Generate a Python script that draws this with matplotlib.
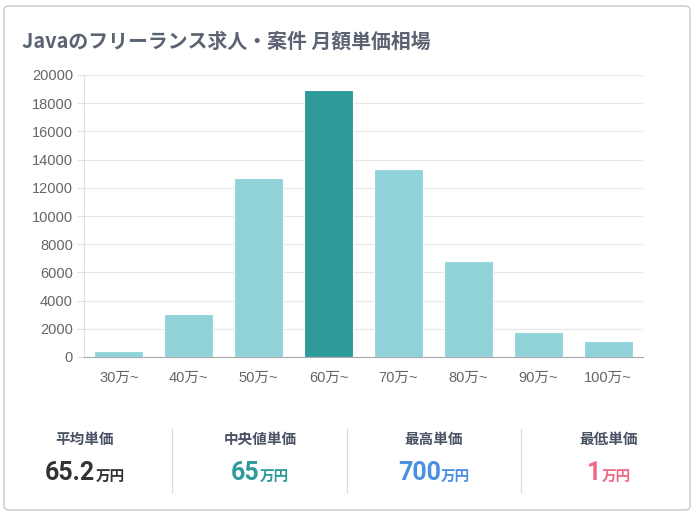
import matplotlib.pyplot as plt
from matplotlib.patches import FancyBboxPatch

plt.rcParams['font.family'] = ['Noto Sans CJK JP', 'DejaVu Sans']

categories = ["30万~", "40万~", "50万~", "60万~", "70万~", "80万~", "90万~", "100万~"]
counts = [450, 3050, 12700, 18950, 13300, 6800, 1800, 1150]
highlight = "60万~"

stat_labels = ["平均単価", "中央値単価", "最高単価", "最低単価"]
stat_values = ["65.2", "65", "700", "1"]
stat_colors = ["#333333", "#2e9a9a", "#4a8fe0", "#f06a85"]

W, H = 695, 514
fig = plt.figure(figsize=(W / 100, H / 100), dpi=100)

# card background
card = FancyBboxPatch((4 / W, 4 / H), 686 / W, 504 / H,
                      boxstyle="round,pad=0,rounding_size=0.008",
                      transform=fig.transFigure, facecolor="white",
                      edgecolor="#c5cbd0", linewidth=1.0, zorder=-5)
fig.patches.append(card)

fig.text(22 / W, 1 - 41 / H, "Javaのフリーランス求人・案件 月額単価相場",
         fontsize=14.3, fontweight="bold", color="#5b6373", va="center", ha="left")

ax = fig.add_axes([84 / W, 1 - 357 / H, 559 / W, 282 / H], zorder=2)
colors = ["#2e9a9a" if c == highlight else "#90d4da" for c in categories]
ax.bar(range(len(categories)), counts, width=0.7, color=colors,
       edgecolor="white", linewidth=0.8, zorder=2)
ax.set_xlim(-0.5, len(categories) - 0.5)
ax.set_ylim(0, 20000)
ax.set_yticks(range(0, 20001, 2000))
ax.set_xticks(range(len(categories)))
ax.set_xticklabels(categories)
tick_font = ["Liberation Sans", "Noto Sans CJK JP"]
for lbl in ax.get_xticklabels() + ax.get_yticklabels():
    lbl.set_family(tick_font)
ax.tick_params(axis="both", labelcolor="#666666", labelsize=10.5, width=0.8)
ax.tick_params(axis="y", color="#e0e0e0", length=5, pad=3)
ax.tick_params(axis="x", length=0, pad=10)
ax.grid(axis="y", color="#e8e8e8", linewidth=0.9, zorder=0)
for s in ["top", "right"]:
    ax.spines[s].set_visible(False)
ax.spines["left"].set_color("#e0e0e0")
ax.spines["bottom"].set_color("#aaaaaa")
ax.set_facecolor("none")

# stats row
renderer = fig.canvas.get_renderer()
centers = [85, 260, 434, 609]
for i, (lab, val, col) in enumerate(zip(stat_labels, stat_values, stat_colors)):
    cx = centers[i]
    fig.text(cx / W, 1 - 439 / H, lab, fontsize=10.5, fontweight="bold",
             color="#4a5265", ha="center", va="center")
    tv = fig.text(0, 1 - 473 / H, val, fontsize=18, fontweight="bold",
                  color=col, ha="left", va="center", family=["Roboto", "DejaVu Sans"])
    tu = fig.text(0, 1 - 476 / H, "万円", fontsize=10.5, fontweight="bold",
                  color=col, ha="left", va="center")
    wv = tv.get_window_extent(renderer).width
    wu = tu.get_window_extent(renderer).width
    x0 = cx - (wv + wu) / 2
    tv.set_x(x0 / W)
    tu.set_x((x0 + wv) / W)

for x in [172, 347, 521]:
    fig.add_artist(plt.Line2D([x / W, x / W], [1 - 429 / H, 1 - 492 / H],
                              color="#dddddd", linewidth=0.9, transform=fig.transFigure))

fig.savefig("out.png", dpi=100, facecolor="white")
